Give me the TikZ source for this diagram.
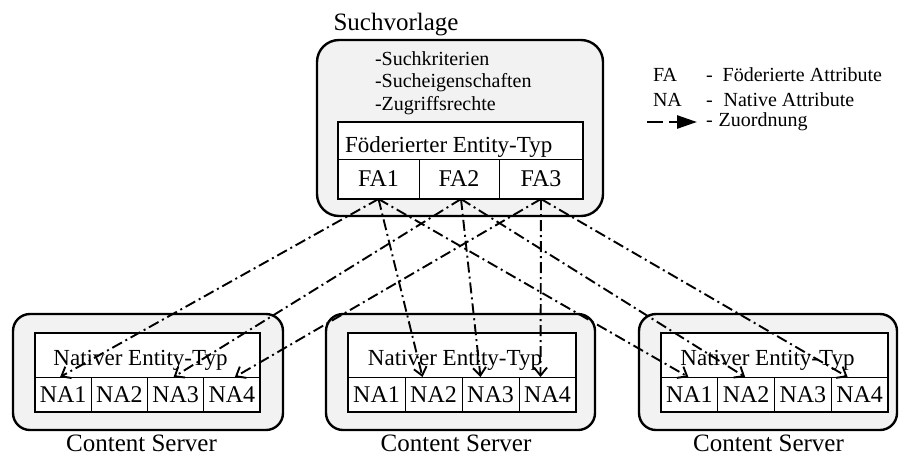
\documentclass[tikz,border=0pt]{standalone}
\usepackage{fontspec}
\setmainfont{Liberation Serif}
\usetikzlibrary{arrows.meta}
\begin{document}
\begin{tikzpicture}[x=1pt,y=-1pt,
  every node/.style={inner sep=0pt, outer sep=0pt},
  outerbox/.style={draw, line width=2.4pt, fill=black!5},
  cell/.style={draw, line width=0.9pt, fill=white},
  tableframe/.style={draw, line width=2pt},
  celltext/.style={font=\fontsize{24}{28}\selectfont},
  headtext/.style={font=\fontsize{23}{27}\selectfont},
  listtext/.style={font=\fontsize{20}{24}\selectfont},
  captiontext/.style={font=\fontsize{25}{30}\selectfont},
  conn/.style={line width=1.9pt, dash pattern=on 11pt off 4pt on 2pt off 4pt,
    -{Straight Barb[length=8pt,width=13pt,line width=1.9pt]}}]
\useasboundingbox (0,0) rectangle (899,456);

% ---------- search template ----------
\node[captiontext, anchor=base] (title) at (396,30) {Suchvorlage};
\draw[outerbox, rounded corners=22pt] (317,40) rectangle (603,216);
\node[listtext, anchor=base west] (k1) at (375,65) {-Suchkriterien};
\node[listtext, anchor=base west] (k2) at (375,87) {-Sucheigenschaften};
\node[listtext, anchor=base west] (k3) at (375,110) {-Zugriffsrechte};

% federated entity type table
\node[cell, anchor=north west, minimum width=245pt, minimum height=37pt] (fhead) at (338,122) {};
\node[headtext, anchor=base west] (fheadlabel) at (345,152) {Föderierter Entity-Typ};
\node[cell, celltext, anchor=north west, minimum width=81pt, minimum height=40pt] (fa1) at (338,159) {FA1};
\node[cell, celltext, anchor=north west, minimum width=80pt, minimum height=40pt] (fa2) at (419,159) {FA2};
\node[cell, celltext, anchor=north west, minimum width=84pt, minimum height=40pt] (fa3) at (499,159) {FA3};
\draw[tableframe] (fhead.north west) rectangle (fa3.south east);

% ---------- content servers ----------
\foreach \i/\x/\w/\r in {1/35/225/283, 2/348/228/595, 3/661/227/897} {
  \draw[outerbox, rounded corners=17pt] ({\x-22},314) rectangle (\r,430);
  \node[cell, anchor=north west, minimum width=\w pt, minimum height=44pt] (h\i) at (\x,333) {};
  \node[headtext, anchor=base] (hl\i) at ({\x+\w/2-7},365) {Nativer Entity-Typ};
  \foreach \k in {1,2,3,4} {
    \node[cell, celltext, anchor=north west, minimum width={\w/4}, minimum height=35pt]
      (b\i na\k) at ({\x+(\k-1)*\w/4},377) {NA\k};
  }
  \draw[tableframe] (h\i.north west) rectangle (b\i na4.south east);
  \node[captiontext, anchor=base] (cs\i) at ({\x+\w/2-6},451) {Content Server};
}

% ---------- mappings ----------
\draw[conn] (fa1.south) -- ([xshift=-3pt]b1na1.north);
\draw[conn] (fa1.south) -- ([xshift=-11pt]b2na2.north);
\draw[conn] (fa1.south) -- ([xshift=-1pt]b3na1.north);
\draw[conn] ([xshift=2pt]fa2.south) -- ([xshift=-2pt]b1na3.north);
\draw[conn] ([xshift=2pt]fa2.south) -- ([xshift=-10pt]b2na3.north);
\draw[conn] ([xshift=2pt]fa2.south) -- ([xshift=-1pt]b3na2.north);
\draw[conn] (fa3.south) -- ([xshift=3pt]b1na4.north);
\draw[conn] (fa3.south) -- ([xshift=-7pt]b2na4.north);
\draw[conn] (fa3.south) -- ([xshift=-12pt]b3na4.north);

% ---------- legend ----------
\node[listtext, anchor=base west] (lfa) at (653,81) {FA};
\node[listtext, anchor=base west] (lfat) at (706,81) {-\hspace{10pt}Föderierte Attribute};
\node[listtext, anchor=base west] (lna) at (653,106) {NA};
\node[listtext, anchor=base west] (lnat) at (706,106) {-\hspace{11pt}Native Attribute};
\coordinate (la) at (647,122);
\coordinate (lb) at (697,122);
\draw[line width=2.6pt, dash pattern=on 16pt off 6pt on 12pt,
  -{Triangle[length=20pt,width=13pt]}] (la) -- (lb);
\node[listtext, anchor=base west] (lzt) at (706,126) {-\hspace{6pt}Zuordnung};
\end{tikzpicture}
\end{document}
